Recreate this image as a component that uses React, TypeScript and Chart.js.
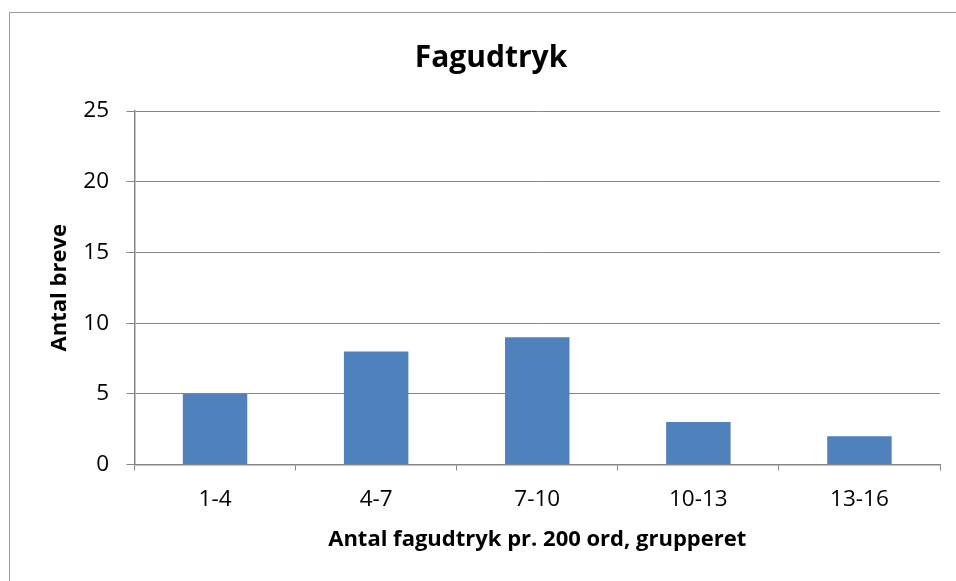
import React, { useEffect, useRef } from "react";
import { Chart, registerables } from "chart.js";

Chart.register(...registerables);

const categories = ["1-4", "4-7", "7-10", "10-13", "13-16"];
const values = [5, 8, 9, 3, 2];
const chartTitle = "Fagudtryk";
const xTitle = "Antal fagudtryk pr. 200 ord, grupperet";
const yTitle = "Antal breve";

const FONT = "'Open Sans', Lato, sans-serif";
const GRID = "#868686";

const titleShift = {
  id: "titleShift",
  afterLayout(chart: any) {
    const tb = chart.titleBlock;
    if (tb) {
      tb.left += 21;
      tb.right += 21;
    }
  },
};

export default function App() {
  const ref = useRef<HTMLCanvasElement | null>(null);

  useEffect(() => {
    document.body.style.margin = "0";
    document.body.style.overflow = "hidden";
    const canvas = ref.current;
    if (!canvas) return;
    const chart = new Chart(canvas, {
      type: "bar",
      data: {
        labels: categories,
        datasets: [
          {
            data: values,
            backgroundColor: "#4F81BD",
            borderWidth: 0,
            categoryPercentage: 1,
            barPercentage: 0.4,
          },
        ],
      },
      options: {
        animation: false,
        responsive: false,
        maintainAspectRatio: false,
        devicePixelRatio: 1,
        layout: { padding: { left: 0, right: 16, top: 0, bottom: 0 } },
        plugins: {
          legend: { display: false },
          tooltip: { enabled: false },
          title: {
            display: true,
            text: chartTitle,
            color: "#000",
            font: { family: FONT, size: 30, weight: "bold", lineHeight: 1.2 },
            padding: { top: 40, bottom: 35 },
          },
        },
        scales: {
          x: {
            afterFit: (s: any) => {
              s.height = 116.5;
            },
            grid: {
              display: true,
              drawOnChartArea: false,
              drawTicks: true,
              tickLength: 6,
              offset: true,
              color: GRID,
              lineWidth: 1,
            },
            border: { display: true, color: GRID, width: 1.5 },
            ticks: {
              color: "#000",
              padding: 16,
              font: { family: FONT, size: 22.5, lineHeight: 1.2 },
            },
            title: {
              display: true,
              text: xTitle,
              color: "#000",
              font: { family: FONT, size: 22, weight: "bold", lineHeight: 1.2 },
              padding: { top: 0, bottom: 28 },
            },
          },
          y: {
            min: 0,
            max: 25,
            afterFit: (s: any) => {
              s.width = 134.5;
            },
            grid: {
              display: true,
              drawOnChartArea: true,
              drawTicks: true,
              tickLength: 8,
              color: GRID,
              lineWidth: 1,
            },
            border: { display: true, color: GRID, width: 1.5 },
            ticks: {
              stepSize: 5,
              color: "#000",
              padding: 17.5,
              font: { family: FONT, size: 22.5, lineHeight: 1.2 },
            },
            title: {
              display: true,
              text: yTitle,
              color: "#000",
              font: { family: FONT, size: 22, weight: "bold", lineHeight: 1.2 },
              padding: { top: 47, bottom: 0 },
            },
          },
        },
      },
      plugins: [titleShift],
    } as any);
    return () => chart.destroy();
  }, []);

  return (
    <div
      style={{
        position: "fixed",
        left: 0,
        top: 0,
        width: 956,
        height: 581,
        background: "#fff",
        overflow: "hidden",
      }}
    >
      <div
        style={{
          position: "absolute",
          left: 9,
          top: 12,
          width: 1000,
          height: 1000,
          border: "1px solid #9a9a9a",
          boxSizing: "border-box",
        }}
      />
      <canvas
        ref={ref}
        width={956}
        height={581}
        style={{ position: "absolute", left: 0, top: 0, width: 956, height: 581 }}
      />
    </div>
  );
}
